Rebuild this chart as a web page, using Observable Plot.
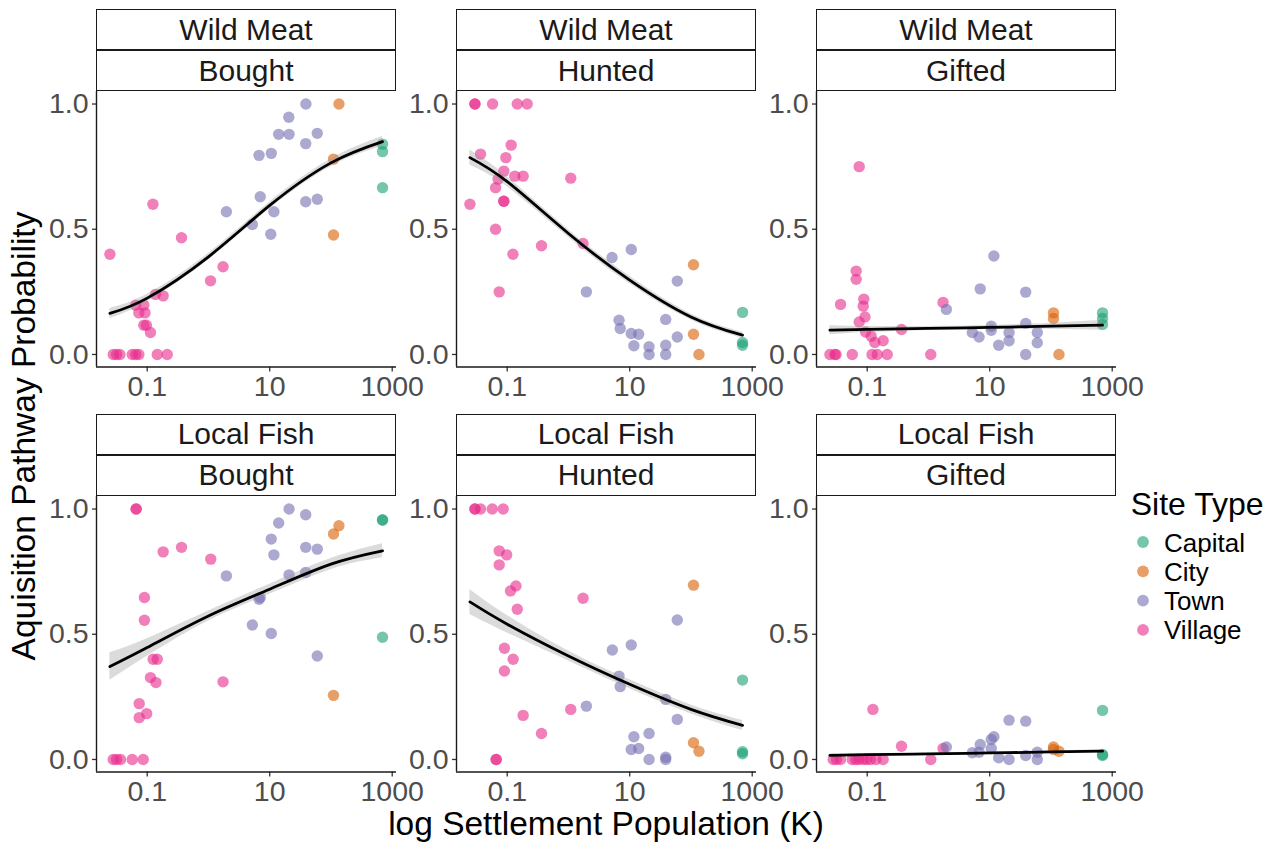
<!DOCTYPE html>
<html><head><meta charset="utf-8">
<script src="https://cdn.jsdelivr.net/npm/d3@7"></script>
<script src="https://cdn.jsdelivr.net/npm/@observablehq/plot@0.6"></script>
<style>
body{margin:0;background:#fff;}
#chart{position:relative;width:1279px;height:846px;background:#fff;font-family:"Liberation Sans",Arial,sans-serif;overflow:hidden}
.strip{position:absolute;box-sizing:border-box;border:1.4px solid #1a1a1a;background:#fff;display:flex;align-items:center;justify-content:center;font-size:30px;color:#1a1a1a;line-height:1}
.panel{position:absolute}
.title{position:absolute;white-space:nowrap;font-size:33.5px;line-height:1;color:#000}
</style></head><body><div id="chart"></div>
<script>
// ---------- data ----------
const siteTypes = ["Capital", "City", "Town", "Village"];
const siteColors = ["#1B9E77", "#D95F02", "#7570B3", "#E7298A"];
const foods = ["Wild Meat", "Local Fish"];
const pathways = ["Bought", "Hunted", "Gifted"];
const xTicks = [0.1, 10, 1000];
const xTickLabels = ["0.1", "10", "1000"];
const yTicks = [0, 0.5, 1];
const xDomain = [0.01486, 1175];
const yDomain = [-0.05, 1.05];

// points: [population (K), probability, site type]
const wildMeatBought = [
  [0.0246,0.40,"Village"],[0.124,0.60,"Village"],[0.363,0.466,"Village"],[1.08,0.294,"Village"],[1.73,0.35,"Village"],
  [0.182,0.234,"Village"],[0.137,0.24,"Village"],[0.065,0.197,"Village"],[0.088,0.197,"Village"],[0.073,0.166,"Village"],
  [0.092,0.166,"Village"],[0.088,0.117,"Village"],[0.097,0.117,"Village"],[0.113,0.088,"Village"],[0.0279,0,"Village"],
  [0.0316,0,"Village"],[0.0358,0,"Village"],[0.057,0,"Village"],[0.065,0,"Village"],[0.073,0,"Village"],[0.146,0,"Village"],[0.212,0,"Village"],
  [1.96,0.57,"Town"],[5.2,0.519,"Town"],[7.0,0.63,"Town"],[6.7,0.795,"Town"],[10.6,0.803,"Town"],[11.7,0.57,"Town"],
  [10.4,0.48,"Town"],[14.0,0.879,"Town"],[20.7,0.879,"Town"],[20.5,0.947,"Town"],[39,1.0,"Town"],[38.7,0.842,"Town"],
  [59.8,0.883,"Town"],[38.7,0.61,"Town"],[59.8,0.62,"Town"],
  [135,1.0,"City"],[110,0.78,"City"],[110,0.477,"City"],
  [695,0.84,"Capital"],[695,0.81,"Capital"],[695,0.666,"Capital"]
];
const wildMeatHunted = [
  [0.0297,1,"Village"],[0.0297,1,"Village"],[0.0577,1,"Village"],[0.146,1,"Village"],[0.212,1,"Village"],
  [0.0367,0.80,"Village"],[0.116,0.836,"Village"],[0.095,0.786,"Village"],[0.088,0.732,"Village"],[0.133,0.712,"Village"],
  [0.182,0.712,"Village"],[0.071,0.70,"Village"],[0.0645,0.666,"Village"],[0.0246,0.60,"Village"],[0.088,0.612,"Village"],
  [0.088,0.612,"Village"],[0.0645,0.50,"Village"],[0.363,0.434,"Village"],[0.124,0.40,"Village"],[0.074,0.25,"Village"],
  [1.09,0.704,"Village"],[1.73,0.443,"Village"],
  [5.15,0.387,"Town"],[10.6,0.419,"Town"],[1.96,0.25,"Town"],[59.8,0.293,"Town"],[38.7,0.14,"Town"],[6.7,0.137,"Town"],
  [7.0,0.104,"Town"],[10.6,0.084,"Town"],[14.0,0.081,"Town"],[11.7,0.035,"Town"],[20.7,0.031,"Town"],[20.7,0,"Town"],
  [38.7,0.037,"Town"],[38.7,0,"Town"],[59.8,0.07,"Town"],
  [110,0.358,"City"],[110,0.081,"City"],[135,0,"City"],
  [695,0.168,"Capital"],[695,0.048,"Capital"],[695,0.037,"Capital"]
];
const wildMeatGifted = [
  [0.074,0.75,"Village"],[0.066,0.333,"Village"],[0.066,0.30,"Village"],[0.0367,0.20,"Village"],[0.088,0.221,"Village"],
  [0.086,0.193,"Village"],[0.092,0.15,"Village"],[0.074,0.13,"Village"],[0.094,0.09,"Village"],[0.116,0.073,"Village"],
  [0.133,0.048,"Village"],[0.182,0.055,"Village"],[0.363,0.10,"Village"],[1.73,0.208,"Village"],[1.09,0,"Village"],
  [0.0246,0,"Village"],[0.0297,0,"Village"],[0.031,0,"Village"],[0.057,0,"Village"],[0.12,0,"Village"],[0.146,0,"Village"],[0.212,0,"Village"],
  [1.96,0.18,"Town"],[11.7,0.393,"Town"],[7.0,0.262,"Town"],[38.7,0.249,"Town"],[38.7,0.124,"Town"],[10.6,0.113,"Town"],
  [10.6,0.097,"Town"],[5.2,0.088,"Town"],[6.7,0.07,"Town"],[20.7,0.088,"Town"],[20.7,0.055,"Town"],[14.0,0.037,"Town"],
  [59.8,0.088,"Town"],[59.8,0.047,"Town"],[38.7,0,"Town"],
  [110,0.166,"City"],[110,0.144,"City"],[135,0,"City"],
  [695,0.166,"Capital"],[695,0.144,"Capital"],[695,0.12,"Capital"]
];
const localFishBought = [
  [0.066,1,"Village"],[0.066,1,"Village"],[0.182,0.829,"Village"],[0.363,0.847,"Village"],[1.09,0.80,"Village"],
  [0.090,0.647,"Village"],[0.090,0.556,"Village"],[0.125,0.40,"Village"],[0.146,0.40,"Village"],[0.113,0.327,"Village"],
  [0.139,0.307,"Village"],[0.074,0.223,"Village"],[0.098,0.183,"Village"],[0.074,0.167,"Village"],[1.73,0.31,"Village"],
  [0.0279,0,"Village"],[0.0316,0,"Village"],[0.0367,0,"Village"],[0.057,0,"Village"],[0.086,0,"Village"],
  [1.96,0.733,"Town"],[5.2,0.537,"Town"],[6.7,0.64,"Town"],[7.0,0.647,"Town"],[10.6,0.88,"Town"],[11.7,0.817,"Town"],
  [10.6,0.503,"Town"],[14.0,0.944,"Town"],[20.7,1.0,"Town"],[20.7,0.737,"Town"],[38.7,0.977,"Town"],[38.7,0.847,"Town"],
  [38.7,0.747,"Town"],[59.8,0.84,"Town"],[59.8,0.413,"Town"],
  [135,0.933,"City"],[110,0.90,"City"],[110,0.256,"City"],
  [695,0.956,"Capital"],[695,0.956,"Capital"],[695,0.488,"Capital"]
];
const localFishHunted = [
  [0.0297,1,"Village"],[0.0297,1,"Village"],[0.0367,1,"Village"],[0.057,1,"Village"],[0.086,1,"Village"],
  [0.074,0.833,"Village"],[0.098,0.817,"Village"],[0.074,0.777,"Village"],[0.139,0.693,"Village"],[0.113,0.673,"Village"],
  [0.146,0.60,"Village"],[1.73,0.644,"Village"],[0.090,0.444,"Village"],[0.125,0.40,"Village"],[0.090,0.353,"Village"],
  [0.182,0.176,"Village"],[0.363,0.104,"Village"],[1.09,0.20,"Village"],[0.066,0,"Village"],[0.066,0,"Village"],
  [1.96,0.213,"Town"],[5.2,0.437,"Town"],[10.6,0.457,"Town"],[6.7,0.333,"Town"],[7.0,0.291,"Town"],[38.7,0.24,"Town"],
  [59.8,0.557,"Town"],[59.8,0.16,"Town"],[11.7,0.091,"Town"],[20.7,0.104,"Town"],[10.6,0.04,"Town"],[14.0,0.044,"Town"],
  [20.7,0,"Town"],[38.7,0.009,"Town"],[38.7,0,"Town"],
  [110,0.696,"City"],[110,0.067,"City"],[135,0.033,"City"],
  [695,0.317,"Capital"],[695,0.031,"Capital"],[695,0.023,"Capital"]
];
const localFishGifted = [
  [0.124,0.20,"Village"],[0.363,0.053,"Village"],[1.73,0.044,"Village"],[1.09,0,"Village"],
  [0.0279,0,"Village"],[0.0316,0,"Village"],[0.0367,0,"Village"],[0.057,0,"Village"],[0.065,0,"Village"],[0.073,0,"Village"],
  [0.086,0,"Village"],[0.098,0,"Village"],[0.113,0,"Village"],[0.139,0,"Village"],[0.182,0,"Village"],
  [1.96,0.05,"Town"],[5.2,0.027,"Town"],[6.7,0.029,"Town"],[7.0,0.06,"Town"],[10.6,0.08,"Town"],[11.7,0.091,"Town"],
  [10.6,0.044,"Town"],[14.0,0.007,"Town"],[20.7,0.157,"Town"],[20.7,0,"Town"],[38.7,0.153,"Town"],[38.7,0.016,"Town"],
  [59.8,0.029,"Town"],[59.8,0,"Town"],
  [110,0.05,"City"],[135,0.033,"City"],[110,0.04,"City"],
  [695,0.196,"Capital"],[695,0.02,"Capital"],[695,0.016,"Capital"]
];

// fitted logistic curves and their confidence bands
const fitPop = [0.0246, 0.1, 1, 10, 100, 695];
const wildMeatBoughtFit = [0.164, 0.225, 0.39, 0.595, 0.765, 0.85];
const wildMeatBoughtLo  = [0.144, 0.21, 0.377, 0.582, 0.75, 0.83];
const wildMeatBoughtHi  = [0.184, 0.24, 0.403, 0.608, 0.78, 0.87];
const wildMeatHuntedFit = [0.786, 0.69, 0.483, 0.297, 0.15, 0.077];
const wildMeatHuntedLo  = [0.756, 0.67, 0.468, 0.282, 0.138, 0.065];
const wildMeatHuntedHi  = [0.816, 0.71, 0.498, 0.312, 0.162, 0.089];
const wildMeatGiftedFit = [0.097, 0.1, 0.104, 0.108, 0.113, 0.117];
const wildMeatGiftedLo  = [0.079, 0.088, 0.096, 0.1, 0.101, 0.097];
const wildMeatGiftedHi  = [0.115, 0.112, 0.112, 0.116, 0.125, 0.137];
const localFishBoughtFit = [0.371, 0.447, 0.573, 0.68, 0.78, 0.833];
const localFishBoughtLo  = [0.316, 0.412, 0.553, 0.66, 0.758, 0.805];
const localFishBoughtHi  = [0.426, 0.482, 0.593, 0.70, 0.802, 0.861];
const localFishHuntedFit = [0.629, 0.54, 0.413, 0.30, 0.20, 0.136];
const localFishHuntedLo  = [0.579, 0.505, 0.393, 0.282, 0.182, 0.116];
const localFishHuntedHi  = [0.679, 0.575, 0.433, 0.318, 0.218, 0.156];
const localFishGiftedFit = [0.016, 0.019, 0.022, 0.026, 0.03, 0.033];
const localFishGiftedLo  = [0.01, 0.015, 0.019, 0.023, 0.026, 0.027];
const localFishGiftedHi  = [0.022, 0.023, 0.025, 0.029, 0.034, 0.039];

// ---------- layout ----------
const colLeft = [96, 456, 816];
const rowTop = [91.3, 495.8];
const stripTop = [9, 413.5];
const stripH = 41;
const panelW = 300, panelH = 275.5;
const mL = 96, mR = 24, mT = 10, mB = 52;

const panelSpecs = [
  {r:0, c:0, pts: wildMeatBought, fit: wildMeatBoughtFit, lo: wildMeatBoughtLo, hi: wildMeatBoughtHi},
  {r:0, c:1, pts: wildMeatHunted, fit: wildMeatHuntedFit, lo: wildMeatHuntedLo, hi: wildMeatHuntedHi},
  {r:0, c:2, pts: wildMeatGifted, fit: wildMeatGiftedFit, lo: wildMeatGiftedLo, hi: wildMeatGiftedHi},
  {r:1, c:0, pts: localFishBought, fit: localFishBoughtFit, lo: localFishBoughtLo, hi: localFishBoughtHi},
  {r:1, c:1, pts: localFishHunted, fit: localFishHuntedFit, lo: localFishHuntedLo, hi: localFishHuntedHi},
  {r:1, c:2, pts: localFishGifted, fit: localFishGiftedFit, lo: localFishGiftedLo, hi: localFishGiftedHi}
];

const chart = document.getElementById("chart");
const font = '"Liberation Sans", Arial, sans-serif';

for (const p of panelSpecs) {
  const rows = p.pts.map(([pop, prob, type]) => ({pop, prob, type}));
  const curve = fitPop.map((pop, i) => ({pop, fit: p.fit[i], lo: p.lo[i], hi: p.hi[i]}));
  const svg = Plot.plot({
    width: mL + panelW + mR,
    height: mT + panelH + mB,
    marginLeft: mL, marginRight: mR, marginTop: mT, marginBottom: mB,
    style: {background: "transparent", fontFamily: font, fontSize: "28.5px", overflow: "visible"},
    x: {type: "log", domain: xDomain},
    y: {domain: yDomain},
    color: {domain: siteTypes, range: siteColors},
    marks: [
      Plot.axisX({ticks: xTicks, tickFormat: d => xTickLabels[xTicks.indexOf(d)], tickSize: 5, tickPadding: 4,
                  stroke: "#333333", fill: "#4D4D4D", strokeWidth: 1.3, label: null}),
      Plot.axisY({ticks: yTicks, tickFormat: d3.format(".1f"), tickSize: 4, tickPadding: 4,
                  stroke: "#333333", fill: "#4D4D4D", strokeWidth: 1.3, label: null}),
      Plot.ruleX([xDomain[0]], {stroke: "#1a1a1a", strokeWidth: 1.4}),
      Plot.ruleY([yDomain[0]], {stroke: "#1a1a1a", strokeWidth: 1.4}),
      Plot.dot(rows, {x: "pop", y: "prob", fill: "type", r: 5.7, fillOpacity: 0.6}),
      Plot.areaY(curve, {x: "pop", y1: "lo", y2: "hi", fill: "#999999", fillOpacity: 0.35, curve: "natural"}),
      Plot.lineY(curve, {x: "pop", y: "fit", stroke: "black", strokeWidth: 2.8, curve: "natural"})
    ]
  });
  const wrap = document.createElement("div");
  wrap.className = "panel";
  wrap.style.left = (colLeft[p.c] - mL) + "px";
  wrap.style.top = (rowTop[p.r] - mT) + "px";
  wrap.appendChild(svg);
  chart.appendChild(wrap);

  const s1 = document.createElement("div");
  s1.className = "strip";
  Object.assign(s1.style, {left: colLeft[p.c] + "px", top: stripTop[p.r] + "px", width: panelW + "px", height: stripH + "px"});
  s1.textContent = foods[p.r];
  chart.appendChild(s1);
  const s2 = document.createElement("div");
  s2.className = "strip";
  Object.assign(s2.style, {left: colLeft[p.c] + "px", top: (stripTop[p.r] + stripH) + "px", width: panelW + "px", height: (rowTop[p.r] - stripTop[p.r] - stripH) + "px"});
  s2.textContent = pathways[p.c];
  chart.appendChild(s2);
}

// axis titles
const xt = document.createElement("div");
xt.className = "title";
xt.textContent = "log Settlement Population (K)";
Object.assign(xt.style, {left: "606px", top: "806.6px", transform: "translateX(-50%)"});
chart.appendChild(xt);

const yt = document.createElement("div");
yt.className = "title";
yt.textContent = "Aquisition Pathway Probability";
Object.assign(yt.style, {left: "24px", top: "436px", transform: "translate(-50%,-50%) rotate(-90deg)"});
chart.appendChild(yt);

// legend
const leg = d3.select(chart).append("svg")
  .attr("width", 179).attr("height", 175)
  .style("position", "absolute").style("left", "1100px").style("top", "480px")
  .style("font-family", font);
leg.append("text").attr("x", 30.7).attr("y", 35).attr("font-size", 32).attr("fill", "#000").text("Site Type");
const baselines = [71.5, 100.8, 130.1, 159.4];
siteTypes.forEach((t, i) => {
  leg.append("circle").attr("cx", 43).attr("cy", baselines[i] - 9.5).attr("r", 5.9)
    .attr("fill", siteColors[i]).attr("fill-opacity", 0.6);
  leg.append("text").attr("x", 64).attr("y", baselines[i]).attr("font-size", 26).attr("fill", "#000").text(t);
});
</script></body></html>
